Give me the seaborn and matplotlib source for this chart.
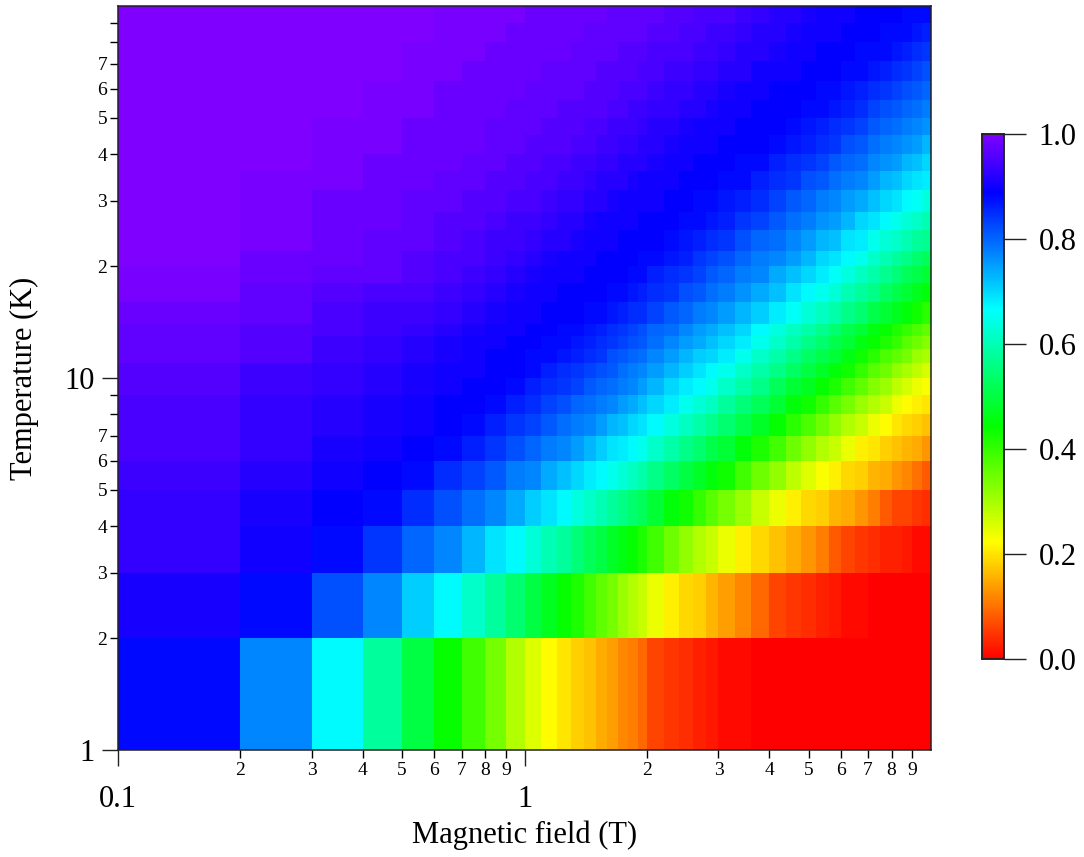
import numpy as np
import pandas as pd
import matplotlib
matplotlib.use("Agg")
import matplotlib.pyplot as plt
from matplotlib.colors import LinearSegmentedColormap
from matplotlib.ticker import FixedLocator, FixedFormatter
import seaborn as sns

# cell edges of the map
field_edges = [0.1, 0.2, 0.3, 0.4, 0.5, 0.6, 0.7, 0.8, 0.9, 1, 1.1, 1.2, 1.3, 1.4, 1.5, 1.6, 1.7, 1.8, 1.9, 2,
               2.2, 2.4, 2.6, 2.8, 3, 3.3, 3.6, 4, 4.4, 4.8, 5.2, 5.6, 6, 6.5, 7, 7.5, 8, 8.5, 9, 9.5, 10]
temp_edges = [1, 2, 3, 4, 5, 6, 7, 8, 9, 10, 11, 12, 13, 14, 16, 18, 20, 22, 25, 28, 32, 36, 40, 45, 50, 56, 63, 71, 80, 90, 100]

# colour read per cell, in percent, bottom row first
values_pct = [
    [88,77,67,58,50,44,39,34,29,25,22,20,18,17,15,14,12,11,9,6,5,4,3,2,1,1,0,0,0,0,0,0,0,0,0,0,0,0,0,0],
    [91,88,82,77,71,67,62,58,54,50,47,44,42,39,36,34,31,29,27,24,21,19,18,16,14,12,9,6,5,4,3,2,1,1,0,0,0,0,0,0],
    [93,90,88,84,80,77,73,69,67,63,60,58,55,52,50,48,46,44,42,39,35,32,29,27,24,21,19,17,15,13,11,8,6,5,4,3,3,2,1,1],
    [93,91,89,88,85,82,79,77,74,71,69,67,64,62,60,58,56,54,52,49,45,43,40,37,34,31,27,24,21,19,18,16,15,13,11,8,6,6,5,4],
    [94,92,90,89,88,85,83,81,78,77,74,72,70,68,67,65,63,61,59,56,53,50,48,45,43,39,35,32,28,25,23,21,19,18,16,15,13,12,10,8],
    [95,93,91,90,89,88,86,84,82,80,78,77,75,73,71,69,68,67,65,62,59,56,54,51,49,45,42,39,35,32,29,27,24,21,20,18,17,16,15,13],
    [95,93,92,91,90,89,88,86,84,83,81,79,78,77,75,73,72,70,69,67,64,61,59,57,54,51,48,44,41,38,35,32,29,27,24,22,20,19,18,17],
    [95,93,92,91,90,89,89,88,86,85,83,82,80,79,78,77,75,74,72,70,68,65,63,61,58,55,52,49,45,43,40,37,34,31,29,27,24,22,21,20],
    [96,94,93,92,91,90,89,89,88,86,85,84,83,81,80,79,78,77,75,73,70,68,67,65,62,59,56,52,49,47,44,42,39,36,33,31,28,26,24,23],
    [96,94,93,92,91,90,90,89,89,88,86,85,84,83,82,81,79,78,77,75,73,71,69,67,65,62,59,56,53,50,48,45,43,40,37,35,32,30,28,26],
    [97,96,94,93,92,91,90,89,89,88,88,87,86,85,84,82,81,80,79,77,75,73,71,70,68,65,62,59,56,53,51,49,46,43,41,38,36,34,31,30],
    [97,96,94,93,92,91,90,90,89,89,88,88,87,86,85,84,83,82,81,79,77,75,74,72,70,68,65,62,59,56,54,51,49,46,44,42,40,37,35,33],
    [97,96,95,94,93,92,91,90,90,89,89,88,88,87,86,85,84,83,82,80,79,77,75,74,72,70,67,64,61,59,57,54,51,49,46,44,42,40,38,36],
    [98,97,95,94,94,93,92,91,90,90,89,89,89,88,88,87,86,85,85,83,81,80,78,77,75,73,71,68,66,63,61,59,56,54,51,49,47,45,43,41],
    [99,97,96,95,95,94,93,92,91,90,90,89,89,89,89,88,88,87,86,85,84,82,81,79,78,76,74,72,69,67,65,63,60,58,56,53,51,49,47,45],
    [99,98,97,97,96,95,94,93,92,91,90,90,90,89,89,89,89,88,88,86,85,84,83,81,80,78,77,74,72,70,68,66,64,61,59,57,55,52,51,49],
    [100,98,98,97,96,95,95,94,93,92,91,90,90,90,89,89,89,89,88,88,87,86,84,83,82,80,78,77,75,73,70,69,67,65,62,60,58,56,54,52],
    [100,99,98,97,97,96,95,94,94,93,92,92,91,90,90,90,89,89,89,89,88,87,86,85,84,82,80,79,77,75,73,72,69,68,65,63,62,60,58,57],
    [100,99,98,98,97,96,96,95,94,94,93,92,92,91,90,90,90,90,89,89,89,88,88,87,86,84,83,81,79,78,76,75,73,70,69,67,65,63,62,60],
    [100,99,98,98,97,97,96,96,95,95,94,93,93,92,92,91,90,90,90,90,89,89,88,88,87,86,85,83,81,80,78,77,75,74,72,70,69,67,66,64],
    [100,99,99,98,98,97,97,96,96,95,95,94,94,93,92,92,92,91,90,90,90,89,89,89,88,88,86,85,84,82,81,79,78,77,75,73,72,70,69,68],
    [100,100,99,98,98,98,97,97,96,96,95,95,94,94,93,93,92,92,92,91,90,90,89,89,89,88,88,86,85,84,83,81,80,79,77,76,75,73,72,70],
    [100,100,99,99,98,98,98,97,97,96,96,96,95,95,94,94,93,93,92,92,91,90,90,90,89,89,89,88,87,86,85,84,82,81,79,78,77,76,75,73],
    [100,100,99,99,98,98,98,97,97,97,96,96,96,95,95,94,94,94,93,92,92,91,90,90,90,89,89,89,88,87,86,85,84,83,81,80,79,78,77,76],
    [100,100,100,99,99,98,98,98,97,97,97,96,96,96,96,95,95,94,94,93,93,92,92,91,90,90,89,89,89,88,88,87,86,85,83,82,81,80,79,78],
    [100,100,100,99,99,98,98,98,98,97,97,97,97,96,96,96,95,95,95,94,93,93,92,92,91,90,90,89,89,89,88,88,87,86,85,84,83,82,81,80],
    [100,100,100,100,99,99,98,98,98,98,97,97,97,97,96,96,96,96,95,95,94,94,93,93,92,92,90,90,90,89,89,89,88,88,87,86,85,84,83,82],
    [100,100,100,100,99,99,99,98,98,98,98,98,97,97,97,97,96,96,96,95,95,95,94,94,93,92,92,91,90,90,89,89,89,88,88,88,87,86,85,84],
    [100,100,100,100,100,99,99,99,98,98,98,98,98,97,97,97,97,97,97,96,96,95,95,94,94,93,92,92,91,90,90,90,89,89,89,88,88,88,87,86],
    [100,100,100,100,100,99,99,99,99,98,98,98,98,98,98,97,97,97,97,97,96,96,95,95,95,94,93,92,92,91,90,90,90,89,89,89,89,88,88,88],
]

colorbar_ticks = [0.0, 0.2, 0.4, 0.6, 0.8, 1.0]
color_stops = [(0.0, "#ff0000"), (0.222, "#ffff00"), (0.444, "#00ff00"),
               (0.667, "#00ffff"), (0.889, "#0000ff"), (1.0, "#8000ff")]

W, H = 1084, 857


def to_fig(left, top, right, bottom):
    return [left / W, 1 - bottom / H, (right - left) / W, (bottom - top) / H]


sns.set_style("ticks")
plt.rcParams["font.family"] = ["Liberation Serif", "DejaVu Serif"]
plt.rcParams["text.color"] = "black"
plt.rcParams["axes.labelcolor"] = "black"

# long table, one row per cell
fe = np.array(field_edges)
te = np.array(temp_edges)
fc = np.sqrt(fe[:-1] * fe[1:])
tc = np.sqrt(te[:-1] * te[1:])
ff, tt = np.meshgrid(fc, tc)
df = pd.DataFrame({"field": ff.ravel(), "temp": tt.ravel(),
                   "value": np.array(values_pct, dtype=float).ravel() / 100})

rainbow = LinearSegmentedColormap.from_list("igor_rainbow", color_stops, N=256)

fig = plt.figure(figsize=(W / 100, H / 100), dpi=100)
ax = fig.add_axes(to_fig(118, 6, 931, 750))
cax = fig.add_axes(to_fig(982, 134, 1004, 659))

sns.histplot(data=df, x="field", y="temp", weights="value",
             bins=(np.log10(fe), np.log10(te)), log_scale=True, thresh=None,
             cmap=rainbow, vmin=0, vmax=1, cbar=True, cbar_ax=cax, ax=ax, antialiased=False)

ax.set_xlim(0.1, 10)
ax.set_ylim(1, 100)
for side in ["top", "right", "left", "bottom"]:
    ax.spines[side].set_visible(True)
    ax.spines[side].set_linewidth(1.1)
    ax.spines[side].set_color("#222222")

x_minor = [m * d for d in (0.1, 1) for m in range(2, 10)]
x_minor_labels = [str(m) for d in (0.1, 1) for m in range(2, 10)]
ax.xaxis.set_major_locator(FixedLocator([0.1, 1]))
ax.xaxis.set_major_formatter(FixedFormatter(["0.1", "1"]))
ax.xaxis.set_minor_locator(FixedLocator(x_minor))
ax.xaxis.set_minor_formatter(FixedFormatter(x_minor_labels))

y_minor = [m * d for d in (1, 10) for m in range(2, 10)]
y_minor_labels = [str(m) if m < 8 else "" for d in (1, 10) for m in range(2, 10)]
ax.yaxis.set_major_locator(FixedLocator([1, 10]))
ax.yaxis.set_major_formatter(FixedFormatter(["1", "10"]))
ax.yaxis.set_minor_locator(FixedLocator(y_minor))
ax.yaxis.set_minor_formatter(FixedFormatter(y_minor_labels))

ax.tick_params(axis="x", which="major", length=11.5, width=1, labelsize=22, pad=14, color="#222222", labelcolor="black")
ax.tick_params(axis="x", which="minor", length=5.8, width=1, labelsize=14, pad=3, color="black", labelcolor="black")
ax.tick_params(axis="y", which="major", length=11.5, width=1, labelsize=22, pad=5, color="#222222", labelcolor="black")
ax.tick_params(axis="y", which="minor", length=5.8, width=1, labelsize=14, pad=2, color="black", labelcolor="black")

ax.set_xlabel("Magnetic field (T)", fontsize=22, va="center")
ax.set_ylabel("Temperature (K)", fontsize=22, va="center")
ax.xaxis.set_label_coords(0.5, -(835 - 750) / 744)
ax.yaxis.set_label_coords((24 - 118) / 813, 0.5)

cax.yaxis.set_major_locator(FixedLocator(colorbar_ticks))
cax.yaxis.set_major_formatter(FixedFormatter(["%.1f" % t for t in colorbar_ticks]))
cax.tick_params(axis="y", which="major", length=16, width=1, labelsize=22, pad=9, color="#222222", labelcolor="black")
cax.tick_params(axis="y", which="minor", length=0)
for sp in cax.spines.values():
    sp.set_visible(True)
    sp.set_linewidth(1.1)
    sp.set_color("#222222")

fig.savefig("out.png", dpi=100)
